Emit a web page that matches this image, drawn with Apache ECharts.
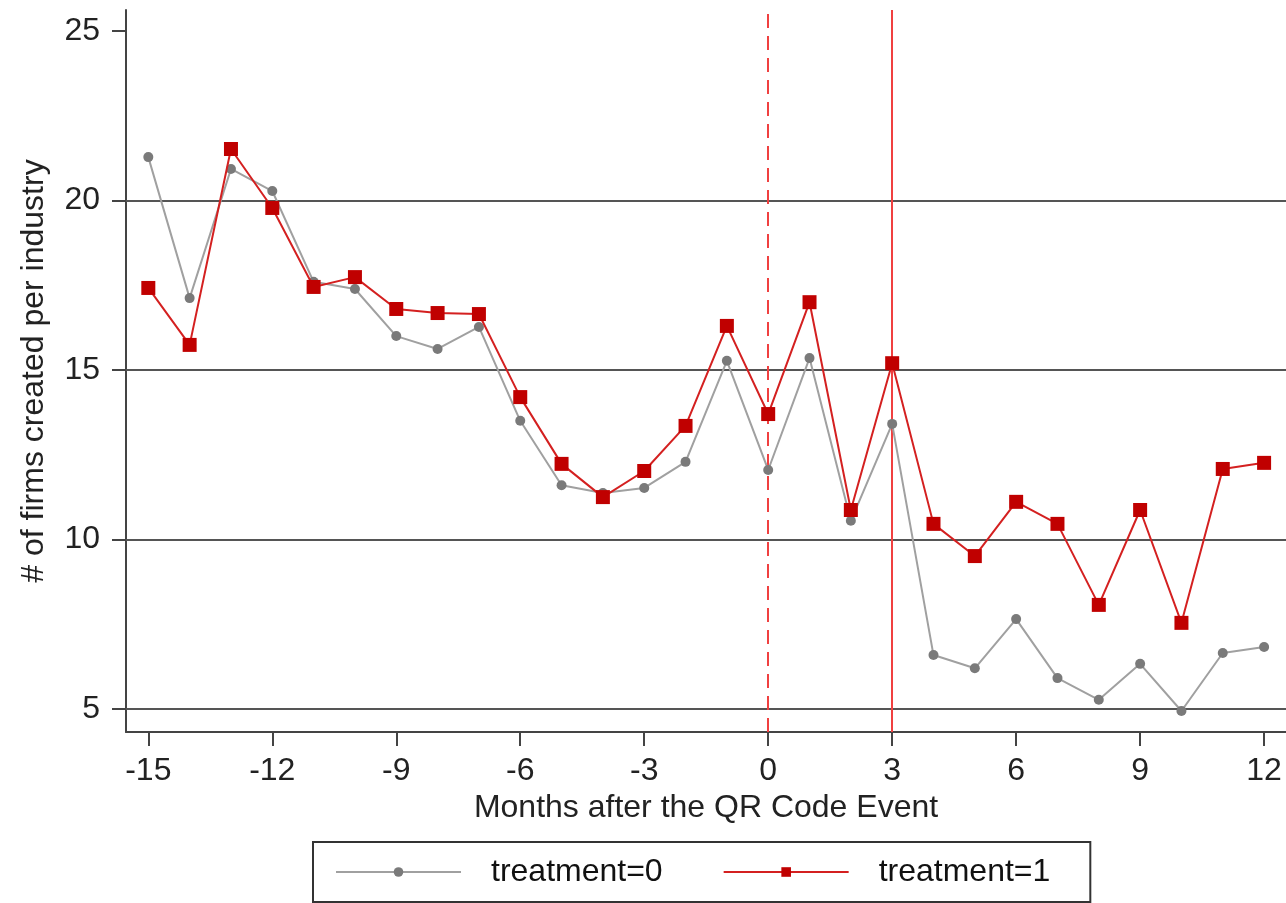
<!DOCTYPE html>
<html><head><meta charset="utf-8">
<script src="https://cdn.jsdelivr.net/npm/echarts@6/dist/echarts.min.js"></script>
<style>html,body{margin:0;padding:0;background:#fff}#c{width:1286px;height:903px}</style>
</head><body><div id="c"></div>
<script>
const months = [-15,-14,-13,-12,-11,-10,-9,-8,-7,-6,-5,-4,-3,-2,-1,0,1,2,3,4,5,6,7,8,9,10,11,12];
const treatment0 = [21.28,17.12,20.93,20.28,17.6,17.39,16.0,15.62,16.27,13.5,11.6,11.37,11.52,12.29,15.27,12.05,15.35,10.55,13.41,6.59,6.2,7.65,5.91,5.27,6.33,4.94,6.65,6.83];
const treatment1 = [17.42,15.74,21.52,19.78,17.45,17.74,16.8,16.68,16.65,14.2,12.23,11.25,12.02,13.35,16.3,13.7,17.0,10.87,15.2,10.46,9.51,11.11,10.46,8.07,10.87,7.54,12.08,12.26];
const xTicks = [-15,-12,-9,-6,-3,0,3,6,9,12];
const yTicks = [5,10,15,20,25];
const gridValues = [5,10,15,20];
const eventLines = [0,3];

const font = 'Liberation Sans, Arial, sans-serif';
const chart = echarts.init(document.getElementById('c'));
chart.setOption({
  backgroundColor:'#fff',
  animation:false,
  grid:{left:126,right:0,top:10,bottom:171},
  legend:{
    top:842, left:313,
    itemWidth:125, itemHeight:12, itemGap:60,
    padding:[14,40,14,22],
    borderColor:'#333', borderWidth:2,
    textStyle:{fontFamily:font,fontSize:32,color:'#111',padding:[0,0,0,25]},
    data:['treatment=0','treatment=1']
  },
  xAxis:{
    type:'value', min:-15.54, max:12.53,
    name:'Months after the QR Code Event', nameLocation:'middle', nameGap:56,
    nameTextStyle:{fontFamily:font,fontSize:32,color:'#222'},
    axisLine:{show:true,onZero:false,lineStyle:{color:'#444',width:2}},
    axisTick:{show:true,length:14,lineStyle:{color:'#444',width:2},customValues:xTicks},
    axisLabel:{fontFamily:font,fontSize:32,color:'#222',margin:23,customValues:xTicks},
    splitLine:{show:false}
  },
  yAxis:{
    type:'value', min:4.32, max:25.62,
    name:'# of firms created per industry', nameLocation:'middle', nameGap:76,
    nameTextStyle:{fontFamily:font,fontSize:32,color:'#222'},
    axisLine:{show:true,onZero:false,lineStyle:{color:'#444',width:2}},
    axisTick:{show:true,length:14,lineStyle:{color:'#444',width:2},customValues:yTicks},
    axisLabel:{fontFamily:font,fontSize:32,color:'#222',margin:26,customValues:yTicks},
    splitLine:{show:false}
  },
  series:[
    {
      name:'treatment=0', type:'line', z:5,
      data:months.map((m,i)=>[m,treatment0[i]]),
      symbol:'circle', symbolSize:10,
      lineStyle:{color:'#a0a0a0',width:2},
      itemStyle:{color:'#7a7a7a'},
      markLine:{
        silent:true, symbol:['none','none'], z:1,
        label:{show:false},
        lineStyle:{color:'#555',width:2,type:'solid'},
        data:gridValues.map(v=>({yAxis:v}))
      }
    },
    {
      name:'treatment=1', type:'line', z:6,
      data:months.map((m,i)=>[m,treatment1[i]]),
      symbol:'rect', symbolSize:14,
      lineStyle:{color:'#d42020',width:2},
      itemStyle:{color:'#c00000'},
      markLine:{
        silent:true, symbol:['none','none'], z:2,
        label:{show:false},
        data:eventLines.map((v,i)=>({xAxis:v,lineStyle:{color:'#f04040',width:2,type:i===0?[14,8]:'solid'}}))
      }
    }
  ]
});
</script></body></html>
